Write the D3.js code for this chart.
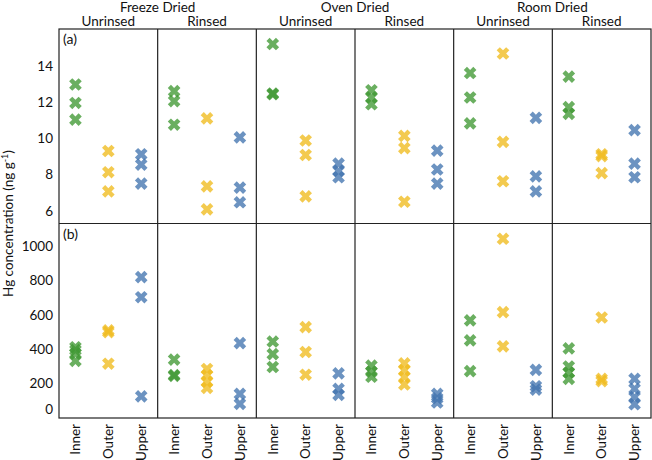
<!DOCTYPE html>
<html>
<head>
<meta charset="utf-8">
<script src="https://cdn.jsdelivr.net/npm/d3@7"></script>
<style>
    body { margin: 0; background: #fff; }
    svg { font-family: Lato, sans-serif; }
</style>
</head>
<body>
<script>
// categories
const methods = ['Freeze Dried', 'Oven Dried', 'Room Dried'];
const treatments = ['Unrinsed', 'Rinsed'];
const parts = ['Inner', 'Outer', 'Upper'];
const partColors = ['#409833', '#efbb1d', '#4274b0'];

// tick labels
const ticksA = [6, 8, 10, 12, 14];
const ticksB = [0, 200, 400, 600, 800, 1000];
const domainA = [5.3, 16.03];
const domainB = [0, 1132];

// (a) Hg concentration, ng g-1 : [Inner, Outer, Upper]
const aFreezeUnrinsed = [[12.97, 11.95, 11.03], [9.3, 8.13, 7.07], [9.12, 8.55, 7.5]];
const aFreezeRinsed = [[12.6, 12.05, 10.75], [11.1, 7.35, 6.08], [10.05, 7.28, 6.47]];
const aOvenUnrinsed = [[15.2, 12.47, 12.43], [9.88, 9.08, 6.8], [8.6, 8.2, 7.85]];
const aOvenRinsed = [[12.65, 12.25, 11.88], [10.13, 9.46, 6.5], [9.32, 8.28, 7.5]];
const aRoomUnrinsed = [[13.6, 12.25, 10.82], [14.68, 9.8, 7.63], [11.13, 7.9, 7.07]];
const aRoomRinsed = [[13.4, 11.72, 11.35], [9.12, 9.02, 8.08], [10.45, 8.6, 7.85]];

// (b) Hg concentration, ng g-1 : [Inner, Outer, Upper]
const bFreezeUnrinsed = [[412, 395, 375, 332], [510, 500, 316], [820, 703, 126]];
const bFreezeRinsed = [[340, 250, 245], [285, 250, 210, 175], [436, 140, 82]];
const bOvenUnrinsed = [[445, 372, 297], [529, 384, 252], [260, 170, 135]];
const bOvenRinsed = [[305, 270, 240], [318, 278, 238, 195], [140, 115, 90]];
const bRoomUnrinsed = [[568, 452, 273], [1043, 616, 417], [280, 185, 165]];
const bRoomRinsed = [[405, 300, 265, 228], [585, 228, 215], [228, 170, 122, 80]];

const panelA = [aFreezeUnrinsed, aFreezeRinsed, aOvenUnrinsed, aOvenRinsed, aRoomUnrinsed, aRoomRinsed];
const panelB = [bFreezeUnrinsed, bFreezeRinsed, bOvenUnrinsed, bOvenRinsed, bRoomUnrinsed, bRoomRinsed];

const W = 652, H = 460;
const margin = {top: 29, right: 1, bottom: 42, left: 59};
const plotW = W - margin.left - margin.right;
const plotH = H - margin.top - margin.bottom;
const panelH = plotH / 2;

//column ids: method|treatment
const columns = [];
methods.forEach(m => treatments.forEach(t => columns.push(`${m}|${t}`)));

const svg = d3.select('body').append('svg')
    .attr('width', W)
    .attr('height', H)
    .attr('viewBox', `0 0 ${W} ${H}`);

const g = svg.append('g')
    .attr('transform', `translate(${margin.left},${margin.top})`);

const xCol = d3.scaleBand().domain(columns).range([0, plotW]);
const xPart = d3.scaleBand().domain(parts).range([0, xCol.bandwidth()]);
const color = d3.scaleOrdinal().domain(parts).range(partColors);

const panels = [
    {label: '(a)', data: panelA, y: d3.scaleLinear().domain(domainA).range([panelH, 0]), ticks: ticksA, offset: 0},
    {label: '(b)', data: panelB, y: d3.scaleLinear().domain(domainB).range([panelH, 0]), ticks: ticksB, offset: panelH},
];

const marker = d3.symbol().type(d3.symbolCross).size(100);

panels.forEach(p => {
    const pg = g.append('g').attr('transform', `translate(0,${p.offset})`);

    //y axis
    const ax = pg.append('g')
        .attr('class', 'yaxis')
        .call(d3.axisLeft(p.y).tickValues(p.ticks).tickFormat(d3.format('d')).tickSize(0).tickPadding(6));
    ax.select('.domain').remove();
    ax.selectAll('text')
        .attr('font-size', 13.5)
        .attr('font-family', 'Lato, sans-serif')
        .attr('fill', '#111');
    // the zero label sits above the bottom edge
    ax.selectAll('.tick').filter(d => d === 0).select('text').attr('y', -9);

    //points
    const points = [];
    p.data.forEach((col, ci) => {
        col.forEach((vals, pi) => {
            vals.forEach(v => points.push({col: columns[ci], part: parts[pi], v}));
        });
    });
    pg.append('g').selectAll('path')
        .data(points)
        .enter().append('path')
        .attr('d', marker)
        .attr('transform', d => `translate(${xCol(d.col) + xPart(d.part) + xPart.bandwidth() / 2},${p.y(d.v)}) rotate(45)`)
        .attr('fill', d => color(d.part))
        .attr('fill-opacity', 0.78);

    pg.append('text')
        .attr('x', 4)
        .attr('y', 15)
        .attr('font-size', 14)
        .attr('fill', '#111')
        .text(p.label);
});

//frame and dividers
g.append('rect')
    .attr('width', plotW)
    .attr('height', plotH)
    .attr('fill', 'none')
    .attr('stroke', '#222')
    .attr('stroke-width', 1.2);
g.append('line')
    .attr('x1', 0).attr('x2', plotW)
    .attr('y1', panelH).attr('y2', panelH)
    .attr('stroke', '#222')
    .attr('stroke-width', 1.2);
g.append('g').selectAll('line')
    .data(columns.slice(1))
    .enter().append('line')
    .attr('x1', d => xCol(d)).attr('x2', d => xCol(d))
    .attr('y1', 0).attr('y2', plotH)
    .attr('stroke', '#222')
    .attr('stroke-width', 1.2);

//bottom category labels
columns.forEach(c => {
    const xa = g.append('g')
        .attr('transform', `translate(${xCol(c)},${plotH})`)
        .call(d3.axisBottom(xPart).tickSize(0));
    xa.select('.domain').remove();
    xa.selectAll('text')
        .attr('transform', 'rotate(-90)')
        .attr('text-anchor', 'end')
        .attr('x', -6)
        .attr('y', 0)
        .attr('dy', '0.35em')
        .attr('font-size', 13.5)
        .attr('font-family', 'Lato, sans-serif')
        .attr('fill', '#111');
});

//headers
g.append('g').selectAll('text')
    .data(columns)
    .enter().append('text')
    .attr('x', d => xCol(d) + xCol.bandwidth() / 2)
    .attr('y', -3)
    .attr('text-anchor', 'middle')
    .attr('font-size', 13.5)
    .attr('fill', '#111')
    .text(d => d.split('|')[1]);
g.append('g').selectAll('text')
    .data(methods)
    .enter().append('text')
    .attr('x', d => xCol(`${d}|Unrinsed`) + xCol.bandwidth())
    .attr('y', -17)
    .attr('text-anchor', 'middle')
    .attr('font-size', 13.5)
    .attr('fill', '#111')
    .text(d => d);

//y title
const title = svg.append('text')
    .attr('transform', `translate(13,${margin.top + plotH / 2}) rotate(-90)`)
    .attr('text-anchor', 'middle')
    .attr('font-size', 13.5)
    .attr('fill', '#111');
title.append('tspan').text('Hg concentration (ng g');
title.append('tspan').attr('dy', -5).attr('font-size', 9).text('-1');
title.append('tspan').attr('dy', 5).text(')');
</script>
</body>
</html>
